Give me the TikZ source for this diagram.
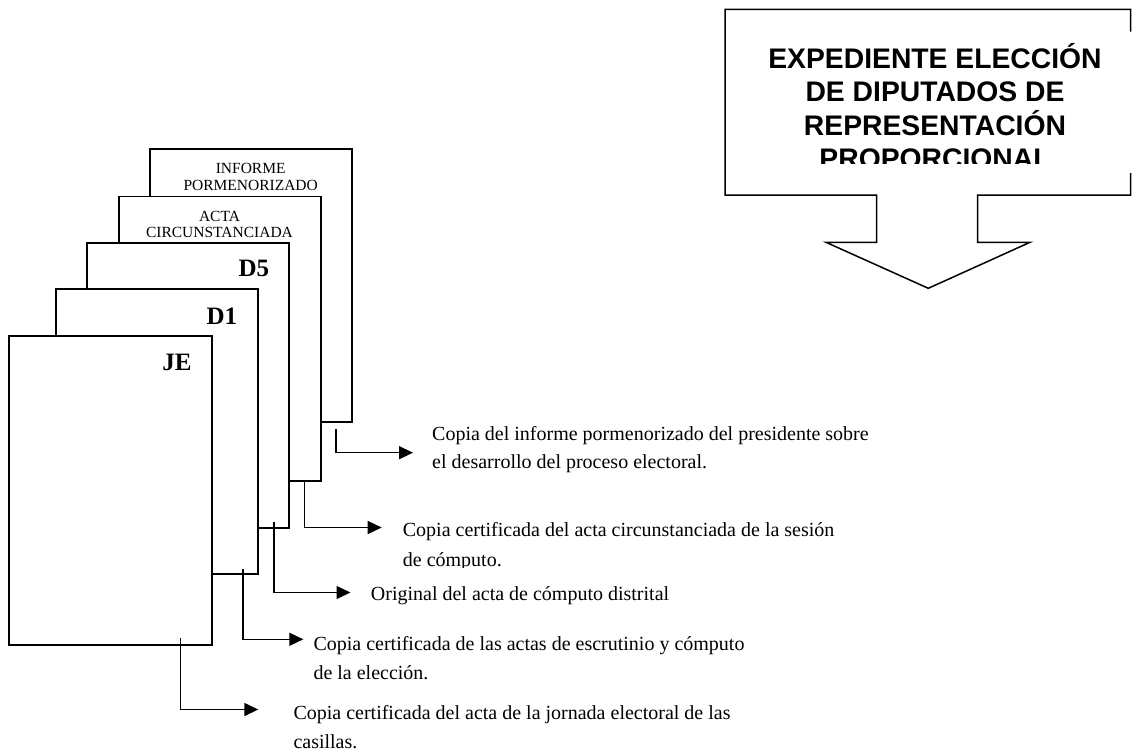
\documentclass[tikz,border=0pt]{standalone}
\usepackage{fontspec}
\setmainfont{Liberation Serif}
\newfontfamily\arialfont{Liberation Sans}
\usetikzlibrary{arrows.meta}
\begin{document}
\begin{tikzpicture}[x=1pt,y=-1pt,
  sheet/.style={draw=black, fill=white, line width=1.8pt, inner sep=0pt, outer sep=0pt, anchor=north west, minimum width=202pt},
  sheettxt/.style={anchor=base, inner sep=0pt, font=\fontsize{15.5}{17.4}\selectfont},
  dlabel/.style={anchor=base east, inner sep=0pt, font=\bfseries\fontsize{25}{30}\selectfont},
  conn/.style={line width=1.5pt, -{Triangle[length=14pt,width=13pt]}},
  caption/.style={anchor=base west, inner sep=0pt, font=\fontsize{20}{24}\selectfont},
  titletxt/.style={anchor=base, inner sep=0pt, font=\arialfont\bfseries\fontsize{28.3}{33.4}\selectfont},
  callout/.style={line width=1.5pt, line join=miter}]
\useasboundingbox (0,0) rectangle (1132,753);

% stacked sheets (back to front)
\node[sheet, minimum height=273pt] (inf) at (150,149.3) {};
\node[sheettxt] (infa) at (250.7,173.3) {INFORME};
\node[sheettxt] (infb) at (250.7,190.7) {PORMENORIZADO};

\node[sheet, minimum height=284.5pt] (acta) at (119,196.5) {};
\node[sheettxt] (actaa) at (219.5,221) {ACTA};
\node[sheettxt] (actab) at (219.5,237.7) {CIRCUNSTANCIADA};

\node[sheet, minimum height=285pt] (dfive) at (87.3,242.7) {};
\node[dlabel] (dfivel) at (269.3,276.7) {D5};

\node[sheet, minimum height=285pt] (done) at (56,289) {};
\node[dlabel] (donel) at (237.3,324) {D1};

\node[sheet, minimum width=203pt, minimum height=309.3pt] (je) at (9,335.7) {};
\node[dlabel] (jel) at (191.7,370) {JE};

% connector end points
\coordinate (s1) at (336,429);
\coordinate (t1) at (413,452.7);
\coordinate (s2) at (304.3,481);
\coordinate (t2) at (381.7,527.5);
\coordinate (s3) at (274,522);
\coordinate (t3) at (350.5,592.5);
\coordinate (s4) at (243,569);
\coordinate (t4) at (303.3,639.3);
\coordinate (s5) at (180.7,638.3);
\coordinate (t5) at (258.3,709.5);

\draw[conn] (s1) |- (t1);
\draw[conn] (s2) |- (t2);
\draw[conn] (s3) |- (t3);
\draw[conn] (s4) |- (t4);
\draw[conn] (s5) |- (t5);

% captions
\node[caption] (c1a) at (432,440) {Copia del informe pormenorizado del presidente sobre};
\node[caption] (c1b) at (432,468.5) {el desarrollo del proceso electoral.};
\node[caption] (c2a) at (402.7,536.7) {Copia certificada del acta circunstanciada de la sesión};
\begin{scope}
  \clip (395,545) rectangle (800,567.5);
  \node[caption] (c2b) at (402.7,566) {de cómputo.};
\end{scope}
\node[caption] (c3) at (370.7,600) {Original del acta de cómputo distrital};
\node[caption] (c4a) at (313.3,650) {Copia certificada de las actas de escrutinio y cómputo};
\node[caption] (c4b) at (313.3,679) {de la elección.};
\node[caption] (c5a) at (293.3,719.3) {Copia certificada del acta de la jornada electoral de las};
\node[caption] (c5b) at (293.3,748) {casillas.};

% down-arrow callout
\draw[callout] (1130.7,31.7) -- (1130.7,9.3) -- (725,9.3) -- (725,195)
  -- (876.7,195) -- (876.7,242.3) -- (826,242.3) -- (928.3,288.3)
  -- (1030,242.3) -- (977.7,242.3) -- (977.7,195) -- (1130.7,195) -- (1130.7,173);

\node[titletxt] (ti1) at (935,68.3) {EXPEDIENTE ELECCIÓN};
\node[titletxt] (ti2) at (935,101.7) {DE DIPUTADOS DE};
\node[titletxt] (ti3) at (935,135) {REPRESENTACIÓN};
\begin{scope}
  \clip (726,140) rectangle (1130,163.3);
  \node[titletxt] (ti4) at (935,168.4) {PROPORCIONAL};
\end{scope}
\end{tikzpicture}
\end{document}
